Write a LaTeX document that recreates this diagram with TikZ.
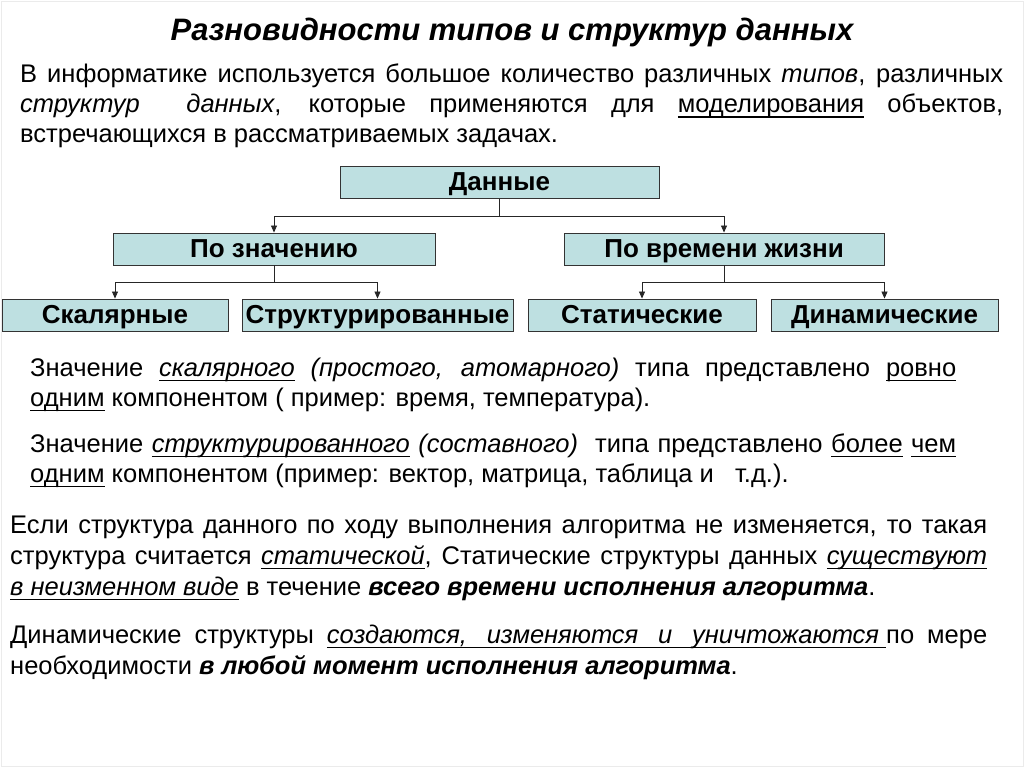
\documentclass[tikz,border=0pt]{standalone}
\usepackage{fontspec}
\setmainfont{Liberation Sans}
\usetikzlibrary{arrows.meta, positioning}

\definecolor{boxfill}{RGB}{190,224,225}
\newsavebox{\ulnbox}
\newcommand{\uln}[1]{\sbox{\ulnbox}{#1}\rlap{\rule[-5pt]{\wd\ulnbox}{1.5pt}}\usebox{\ulnbox}}
\newcommand{\ulsp}{\leaders\vrule height -3.5pt depth 5pt\hskip 0.28em plus 0.3em minus 0.08em\relax}

\tikzset{
  typebox/.style={draw=black!80, line width=0.9pt, fill=boxfill, minimum height=32pt,
    inner sep=0pt, text height=20pt, text depth=4pt, font=\fontsize{26}{30}\selectfont\bfseries},
  para/.style={anchor=base west, align=justify, inner sep=0pt,
    font=\fontsize{25.5}{30}\selectfont},
  widepara/.style={para, font=\fontsize{25.5}{31}\selectfont},
  link/.style={line width=0.8pt, black!85},
  tolink/.style={link, -{Triangle[length=7pt,width=6pt]}},
}

\begin{document}
\begin{tikzpicture}[x=1pt, y=-1pt]
\useasboundingbox (0,0) rectangle (1024,767);
\draw[black!8] (1,1) rectangle (1023,766);

% heading
\node[anchor=base, font=\fontsize{31}{34}\selectfont\bfseries\itshape] (title) at (512,41)
  {Разновидности типов и структур данных};

% intro text
\node[para, text width=983pt] (intro) at (20,83)
  {В информатике используется большое количество различных \textit{типов}, различных\linebreak
   \textit{структур}\ \ \textit{данных}, которые применяются для \uln{моделирования} объектов,\linebreak
   встречающихся в рассматриваемых задачах.};

% classification tree
\node[typebox, minimum width=319pt] (data) at (499.5,182.5) {Данные};
\node[typebox, minimum width=322pt] (byval) at (274,249) {По значению};
\node[typebox, minimum width=320pt] (bylife) at (724,249) {По времени жизни};
\node[typebox, minimum width=226pt] (scalar) at (115,315) {Скалярные};
\node[typebox, minimum width=271pt] (struct) at (377.5,315) {Структурированные};
\node[typebox, minimum width=228pt] (static) at (642,315) {Статические};
\node[typebox, minimum width=227pt] (dynamic) at (884.5,315) {Динамические};

\draw[link] (data.south) -- ++(0,17) coordinate (fork1);
\draw[tolink] (fork1) -| (byval.north);
\draw[tolink] (fork1) -| (bylife.north);
\draw[link] (byval.south) -- ++(0,17) coordinate (fork2);
\draw[tolink] (fork2) -| (scalar.north);
\draw[tolink] (fork2) -| (struct.north);
\draw[link] (bylife.south) -- ++(0,17) coordinate (fork3);
\draw[tolink] (fork3) -| (static.north);
\draw[tolink] (fork3) -| (dynamic.north);

% explanations
\node[para, text width=926pt] (scalartxt) at (30,376)
  {Значение \textit{\uln{скалярного}} \textit{(простого, атомарного)} типа представлено \uln{ровно}\linebreak
   \uln{одним} компонентом ( пример: время, температура).};
\node[para, text width=926pt] (structtxt) at (30,452)
  {Значение \textit{\uln{структурированного}} \textit{(составного)}\ \ типа представлено \uln{более} \uln{чем}\linebreak
   \uln{одним} компонентом (пример: вектор, матрица, таблица и\ \ \ т.д.).};
\node[widepara, text width=977pt] (statictxt) at (10,533)
  {Если структура данного по ходу выполнения алгоритма не изменяется, то такая\linebreak
   структура считается \textit{\uln{статической}}, Статические структуры данных \textit{\uln{существуют}}\linebreak
   \textit{\uln{в}\ulsp\uln{неизменном}\ulsp\uln{виде}} в течение \textbf{\textit{всего времени исполнения алгоритма}}.};
\node[widepara, text width=977pt] (dyntxt) at (10,643)
  {Динамические структуры \textit{\uln{создаются,}\ulsp\uln{изменяются}\ulsp\uln{и}\ulsp\uln{уничтожаются\ }}по мере\linebreak
   необходимости \textbf{\textit{в любой момент исполнения алгоритма}}.};
\end{tikzpicture}
\end{document}
